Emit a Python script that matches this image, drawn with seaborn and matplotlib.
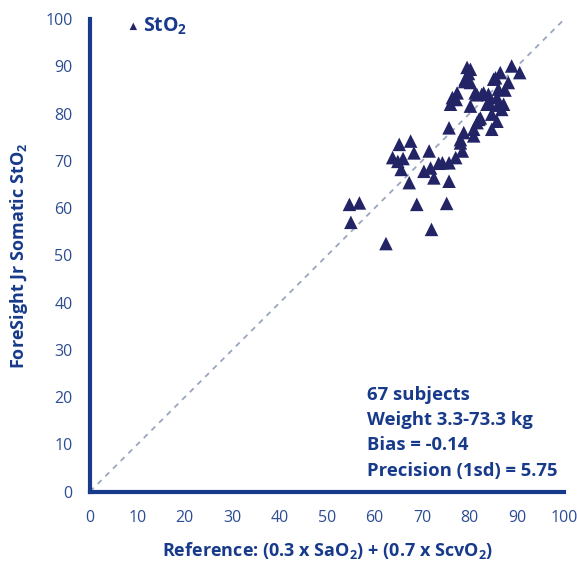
import numpy as np
import pandas as pd
import seaborn as sns
import matplotlib.pyplot as plt

# reference oxygen saturation vs ForeSight Jr somatic StO2
ref_x = [79.5, 80.2, 79.1, 80.2, 86.5, 88.9, 90.6, 85.1, 88.2, 77.4,
         76.4, 76.0, 81.2, 82.6, 84.0, 86.1, 85.8, 80.2, 83.7, 87.2,
         84.7, 86.8, 82.3, 81.6, 85.8, 84.7, 75.7, 78.8, 80.9, 80.9,
         78.1, 65.2, 67.6, 68.3, 63.8, 64.9, 65.6, 71.5, 70.4, 71.8,
         72.5, 74.3, 75.7, 77.1, 78.5, 78.1, 75.7, 67.3, 54.7, 56.8,
         68.9, 75.2, 55.0, 72.0, 62.4, 79.8, 81.6, 83.0, 85.5, 87.5,
         84.2, 86.0, 82.0, 79.0, 77.2, 66.0, 73.5]
sto2_y = [89.8, 89.4, 87.3, 86.6, 88.7, 90.1, 88.7, 87.3, 86.6, 84.4,
          83.4, 82.0, 84.4, 84.1, 84.1, 85.2, 83.4, 81.6, 82.0, 82.0,
          79.9, 80.9, 79.1, 78.1, 78.4, 76.7, 77.0, 76.0, 76.7, 75.3,
          74.5, 73.5, 74.2, 71.7, 70.7, 69.9, 68.2, 72.1, 67.8, 68.5,
          66.4, 69.6, 69.6, 70.7, 72.1, 73.8, 65.7, 65.4, 60.8, 61.1,
          60.8, 61.0, 57.0, 55.5, 52.5, 88.5, 84.0, 84.4, 87.6, 85.0,
          82.3, 81.8, 78.8, 86.8, 83.0, 70.5, 69.5]
stats_lines = ["67 subjects", "Weight 3.3-73.3 kg", "Bias = -0.14", "Precision (1sd) = 5.75"]
ticks = list(range(0, 101, 10))

df = pd.DataFrame({"ref": ref_x, "sto2": sto2_y})

navy = "#173a8a"
label_blue = "#2d4d93"
marker_col = "#222466"

sns.set_style("white")
plt.rcParams["font.family"] = ["Open Sans", "DejaVu Sans"]
plt.rcParams["mathtext.fontset"] = "custom"
plt.rcParams["mathtext.rm"] = "Open Sans"
plt.rcParams["mathtext.bf"] = "Open Sans:bold"

fig = plt.figure(figsize=(5.77, 5.65), dpi=100)
ax = fig.add_axes([0.156, 0.130, 0.822, 0.836])

# identity line
ax.plot([0, 100], [0, 100], ls=(0, (3, 3)), color="#9aa6bd", lw=1.3, zorder=1)

sns.scatterplot(data=df, x="ref", y="sto2", marker="^", s=95, color=marker_col,
                edgecolor="none", ax=ax, label=r"StO$_\mathbf{2}$", zorder=3)

ax.set_xlim(0, 100)
ax.set_ylim(0, 100)
ax.set_xticks(ticks)
ax.set_yticks(ticks)
for s in ["top", "right"]:
    ax.spines[s].set_visible(False)
for s in ["left", "bottom"]:
    ax.spines[s].set_color(navy)
    ax.spines[s].set_linewidth(3)
ax.tick_params(axis="both", direction="out", length=7.5, width=3, color=navy,
               labelcolor=label_blue, labelsize=11.5)
ax.tick_params(axis="x", pad=6)
ax.tick_params(axis="y", pad=5)

ax.set_xlabel(r"Reference: (0.3 x SaO$_\mathbf{2}$) + (0.7 x ScvO$_\mathbf{2}$)",
              fontsize=13, fontweight="bold", color=navy, labelpad=10)
ax.set_ylabel(r"ForeSight Jr Somatic StO$_\mathbf{2}$",
              fontsize=13, fontweight="bold", color=navy, labelpad=11)

leg = ax.legend(loc="upper left", bbox_to_anchor=(0.038, 1.045), frameon=False,
                handlelength=0.8, handletextpad=0.1, markerscale=0.55,
                prop={"weight": "bold", "size": 14})
for t in leg.get_texts():
    t.set_color(navy)

for i, line in enumerate(stats_lines):
    ax.text(58.5, 20.5 - i * 5.35, line, fontsize=13.3, fontweight="bold",
            color=navy, va="center", ha="left")

fig.savefig("out.png", dpi=100)
